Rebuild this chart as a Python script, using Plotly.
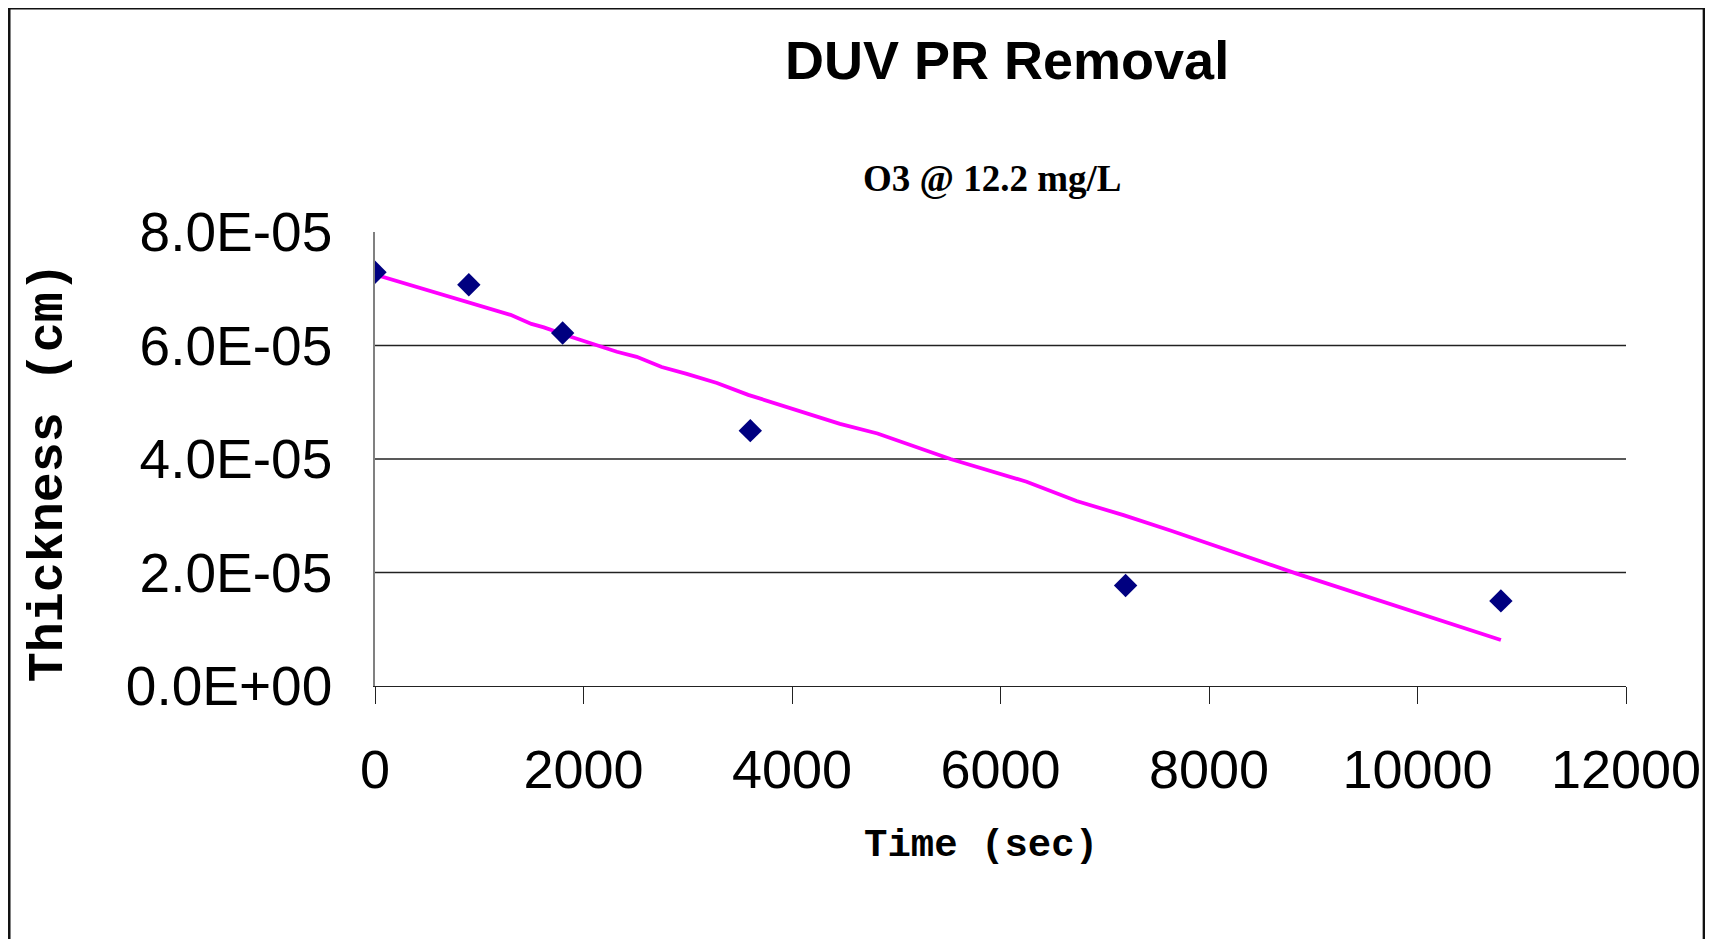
import plotly.graph_objects as go

# ---- data ----
time_sec = [0, 900, 1800, 3600, 7200, 10800]
thickness_cm = [7.29e-5, 7.07e-5, 6.22e-5, 4.50e-5, 1.77e-5, 1.50e-5]

trend_time = [0, 900, 1300, 1500, 1620, 1870, 2320, 2510, 2750, 2990, 3280, 3580,
              3950, 4460, 4820, 5300, 5520, 6250, 6730, 7180, 7630, 8840, 10800]
trend_thick_e5 = [7.25, 6.75, 6.54, 6.38, 6.32, 6.16, 5.89, 5.80, 5.62, 5.50, 5.34, 5.13,
                  4.91, 4.62, 4.45, 4.13, 4.00, 3.60, 3.26, 3.01, 2.74, 1.98, 0.81]
trend_thick = [v * 1e-5 for v in trend_thick_e5]

x_ticks = [0, 2000, 4000, 6000, 8000, 10000, 12000]
x_tick_labels = ["0", "2000", "4000", "6000", "8000", "10000", "12000"]
y_ticks = [0, 2e-5, 4e-5, 6e-5, 8e-5]
y_tick_labels = ["0.0E+00", "2.0E-05", "4.0E-05", "6.0E-05", "8.0E-05"]
y_grid = [2e-5, 4e-5, 6e-5]

title_text = "DUV PR Removal"
subtitle_text = "O3 @ 12.2 mg/L"
x_title = "Time (sec)"
y_title = "Thickness (cm)"

# ---- layout geometry (page pixels; the page body adds an 8px offset) ----
OFF = 8
W, H = 1713, 939
L, R = 374.7, 1625.6
T, B = 232.4, 685.7
pw, ph = R - L, B - T


def px(x):
    return (x - L) / pw


def py(y):
    return (B - y) / ph


fig = go.Figure()
fig.add_trace(go.Scatter(
    x=trend_time, y=trend_thick, mode="lines",
    line=dict(color="#FF00FF", width=3.8), hoverinfo="skip", showlegend=False))
fig.add_trace(go.Scatter(
    x=time_sec, y=thickness_cm, mode="markers",
    marker=dict(symbol="diamond", size=18, color="#000080"), showlegend=False))

shapes = []
for g in y_grid:
    shapes.append(dict(type="line", xref="x domain", yref="y", x0=0, x1=1, y0=g, y1=g,
                       line=dict(color="#222222", width=1.3), layer="below"))
# outer chart border
shapes.append(dict(type="rect", xref="paper", yref="paper",
                   x0=px(9.0), x1=px(1703.5), y0=py(9.0), y1=py(990),
                   line=dict(color="#111111", width=2.5), fillcolor="rgba(0,0,0,0)"))

annotations = [
    dict(text="<b>%s</b>" % title_text, x=px(1007), y=py(61), xref="paper", yref="paper",
         showarrow=False, xanchor="center", yanchor="middle",
         font=dict(family="Liberation Sans", size=54, color="black")),
    dict(text="<b>%s</b>" % subtitle_text, x=px(992), y=py(179), xref="paper", yref="paper",
         showarrow=False, xanchor="center", yanchor="middle",
         font=dict(family="Liberation Serif", size=37, color="black")),
    dict(text="<b>%s</b>" % x_title, x=px(981), y=py(845), xref="paper", yref="paper",
         showarrow=False, xanchor="center", yanchor="middle",
         font=dict(family="Liberation Mono", size=39, color="black")),
    dict(text="<b>%s</b>" % y_title, x=px(49), y=py(472), xref="paper", yref="paper",
         showarrow=False, xanchor="center", yanchor="middle", textangle=-90,
         font=dict(family="Liberation Mono", size=50, color="black")),
]

fig.update_layout(
    width=W, height=H,
    margin=dict(l=L - OFF, r=W - (R - OFF), t=T - OFF, b=H - (B - OFF), pad=0),
    paper_bgcolor="white", plot_bgcolor="white",
    shapes=shapes, annotations=annotations,
    xaxis=dict(range=[0, 12000], tickvals=x_ticks, ticktext=x_tick_labels,
               showgrid=False, zeroline=False, showline=True, linecolor="#222222",
               linewidth=1.3, ticks="outside", ticklen=17, tickwidth=1.3, tickcolor="#222222",
               ticklabelstandoff=19,
               tickfont=dict(family="Liberation Sans", size=54, color="black")),
    yaxis=dict(range=[0, 8e-5], tickvals=y_ticks, ticktext=y_tick_labels,
               showgrid=False, zeroline=False, showline=True, linecolor="#808080",
               linewidth=1.5, ticks="", ticklabelstandoff=30,
               tickfont=dict(family="Liberation Sans", size=55, color="black")),
)

fig.write_html("out.html")
